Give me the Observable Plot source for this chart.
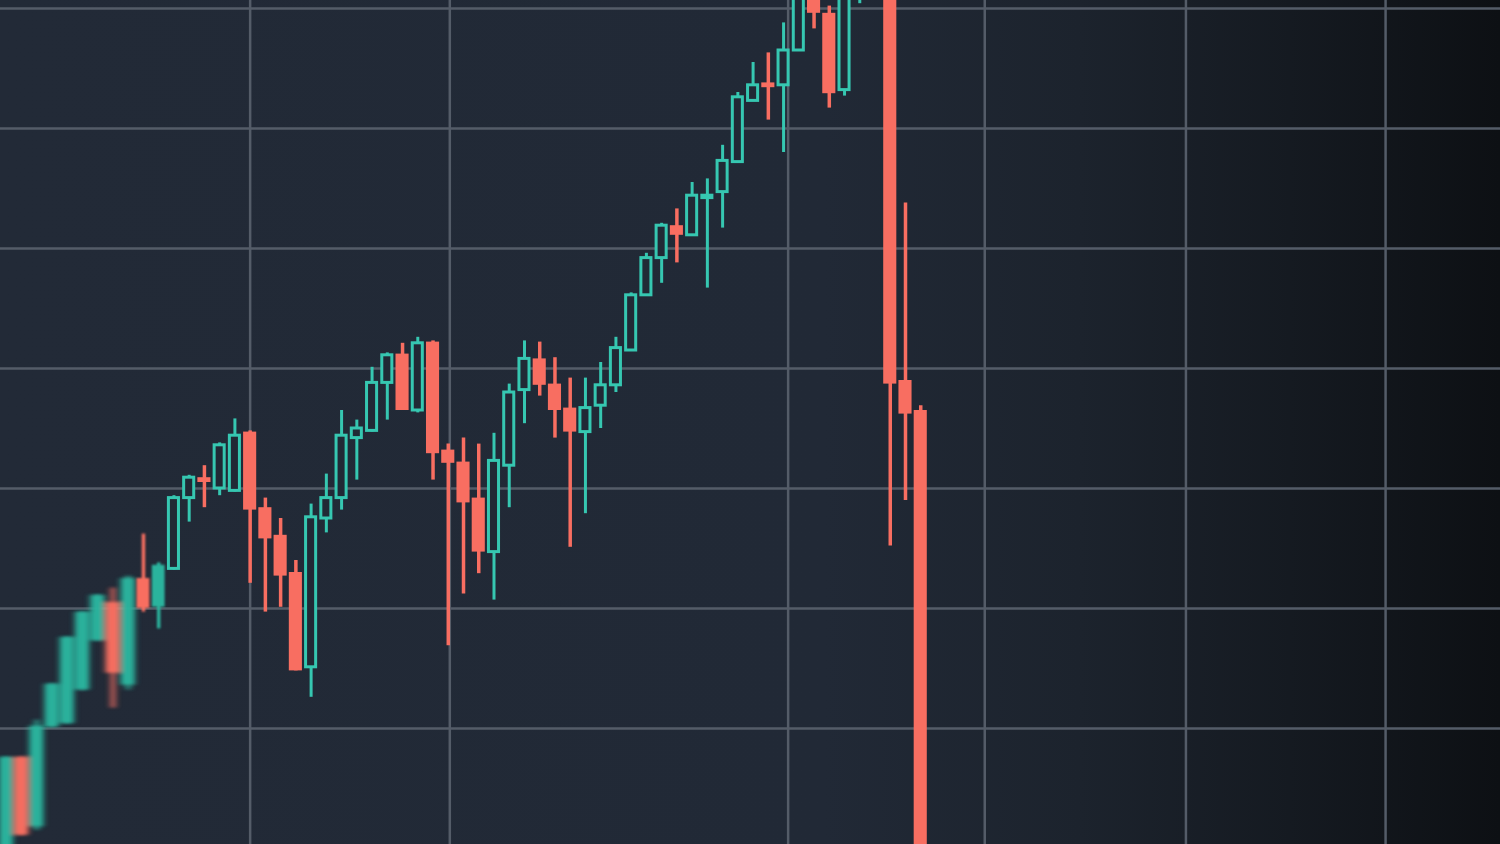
<!DOCTYPE html>
<html>
<head>
<meta charset="utf-8">
<script src="https://cdn.jsdelivr.net/npm/d3@7"></script>
<script src="https://cdn.jsdelivr.net/npm/@observablehq/plot@0.6"></script>
<style>
  html, body { margin: 0; padding: 0; width: 1500px; height: 844px; overflow: hidden; }
  body {
    background: linear-gradient(to right, #222a37 0%, #212936 55%, #1c232d 72%, #151a21 86%, #0d1014 100%);
  }
  #chart svg { display: block; filter: blur(0.5px); }
</style>
</head>
<body>
<div id="chart"></div>
<script>
// Candle index (session number)
const session = [-9,-8,-7,-6,-5,-4,-3,-2,-1,0,1,2,3,4,5,6,7,8,9,10,11,12,13,14,15,16,17,18,19,20,21,22,23,24,25,26,27,28,29,30,31,32,33,34,35,36,37,38,39,40,41,42,43,44,45,46,47,48,49,50,51];
const openP  = [-2,76,18,101,104,132,173,205,136,225,201,233,292,309,300,298,347,284,261,230,151,275,292,342,348,388,412,365,422,332,322,292,247,319,382,408,387,367,347,369,386,415,461,492,519,511,542,547,572,623,638,636,665,715,696,632,715,740,773,390,365];
const closeP = [76,11,102,137,176,197,211,146,225,200,236,292,309,305,336,344,282,258,227,148,276,292,344,350,388,411,365,421,329,321,288,247,323,380,408,386,365,347,367,386,417,461,492,519,511,544,544,573,626,636,634,665,711,696,629,711,740,765,387,362,-18];
const highP  = [76,76,107,137,176,197,211,217,227,262,238,294,311,319,338,358,348,292,275,240,287,312,365,357,401,413,421,426,423,337,342,337,346,387,423,422,409,392,392,405,426,463,496,521,533,555,558,586,630,655,663,688,719,723,702,719,748,773,782,538,369];
const lowP   = [-2,11,15,101,104,132,173,117,132,197,183,232,272,284,294,297,221,197,201,148,126,263,282,307,347,357,365,363,307,169,212,229,207,284,354,377,342,251,279,350,380,415,461,471,488,511,467,517,572,623,607,580,665,683,617,627,704,723,252,290,-18];

// Grid levels
const priceGrid = [100, 200, 300, 400, 500, 600, 700];
const sessionGrid = [7, 20.1, 42.3, 55.2, 68.4, 81.5];

const RED = "#f86e61";
const GREEN = "#36c7b1";
const GREEN_FILL = "#2bb39d";
const BG = "#212935";

const candles = session.map((t, i) => ({
  t, open: openP[i], close: closeP[i], high: highP[i], low: lowP[i],
  up: closeP[i] >= openP[i]
}));

const blurred = candles.filter(d => d.t <= -1);
const soft = candles.filter(d => d.t >= 0 && d.t <= 1);
const sharp = candles.filter(d => d.t > 1);

const plot = Plot.plot({
  width: 1500,
  height: 844,
  margin: 0,
  style: { background: "transparent", overflow: "hidden" },
  x: { domain: [-9.38, 89.04], axis: null },
  y: { domain: [3.33, 706.67], axis: null },
  marks: [
    Plot.ruleY(priceGrid, { stroke: "#545c68", strokeWidth: 2.5 }),
    Plot.ruleX(sessionGrid, { stroke: "#545c68", strokeWidth: 2.5 }),
    // blurred (left) candles — filled
    Plot.ruleX(blurred, { x: "t", y1: "low", y2: "high", stroke: d => d.up ? GREEN_FILL : RED, strokeWidth: 4, ariaDescription: "blur" }),
    Plot.rect(blurred, { x1: d => d.t - 0.45, x2: d => d.t + 0.45, y1: "open", y2: "close", fill: d => d.up ? GREEN_FILL : RED, ariaDescription: "blur" }),
    // slightly soft, filled candles
    Plot.ruleX(soft, { x: "t", y1: "low", y2: "high", stroke: d => d.up ? GREEN_FILL : RED, strokeWidth: 3.5, ariaDescription: "soft" }),
    Plot.rect(soft, { x1: d => d.t - 0.42, x2: d => d.t + 0.42, y1: "open", y2: "close", fill: d => d.up ? GREEN_FILL : RED, ariaDescription: "soft" }),
    // wicks
    Plot.ruleX(sharp, { x: "t", y1: "low", y2: "high", stroke: d => d.up ? GREEN : RED, strokeWidth: d => d.up ? 3 : 3.5 }),
    // red bodies (filled)
    Plot.rect(sharp.filter(d => !d.up), { x1: d => d.t - 0.43, x2: d => d.t + 0.43, y1: "open", y2: "close", fill: RED }),
    // green bodies (hollow)
    Plot.rect(sharp.filter(d => d.up), { x1: d => d.t - 0.33, x2: d => d.t + 0.33, y1: "open", y2: "close", fill: BG, stroke: GREEN, strokeWidth: 3 })
  ]
});

// blur filters for the out-of-focus candles on the left
const svgNS = "http://www.w3.org/2000/svg";
const defs = document.createElementNS(svgNS, "defs");
function addFilter(id, dev) {
  const filter = document.createElementNS(svgNS, "filter");
  filter.setAttribute("id", id);
  filter.setAttribute("filterUnits", "userSpaceOnUse");
  filter.setAttribute("x", "-50"); filter.setAttribute("y", "-50");
  filter.setAttribute("width", "1600"); filter.setAttribute("height", "950");
  const blur = document.createElementNS(svgNS, "feGaussianBlur");
  blur.setAttribute("stdDeviation", dev);
  filter.appendChild(blur);
  defs.appendChild(filter);
}
addFilter("softblur", "3 1.5");
addFilter("lightblur", "1.2 0.8");
plot.insertBefore(defs, plot.firstChild);
plot.querySelectorAll('g[aria-description="blur"]').forEach(g => g.setAttribute("filter", "url(#softblur)"));
plot.querySelectorAll('g[aria-description="soft"]').forEach(g => g.setAttribute("filter", "url(#lightblur)"));

document.getElementById("chart").appendChild(plot);
</script>
</body>
</html>
